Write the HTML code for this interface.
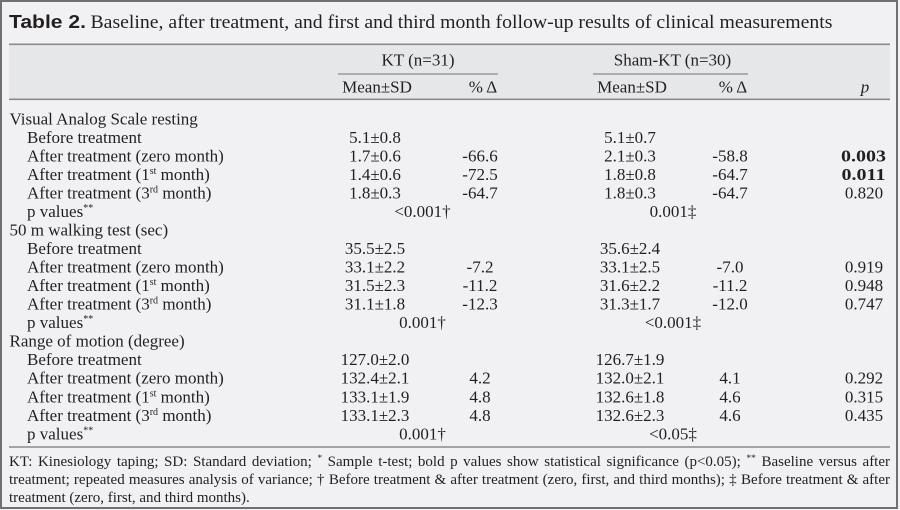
<!DOCTYPE html>
<html>
<head>
<meta charset="utf-8">
<style>
  html, body { margin:0; padding:0; }
  body { width:900px; height:510px; position:relative; overflow:hidden; background:#f1f1f3; }
  svg { position:absolute; left:0; top:0; }
  .fn { position:absolute; left:9px; width:881px; height:18.4px; line-height:18.4px;
        font-family:"Liberation Serif", serif; font-size:15px; color:#231f20; white-space:nowrap; }
  .j { text-align:justify; text-align-last:justify; white-space:normal; }
  .fn sup { font-size:9.5px; line-height:0; vertical-align:5px; }
</style>
</head>
<body>
<svg width="900" height="510" viewBox="0 0 900 510" xmlns="http://www.w3.org/2000/svg">
  <rect x="0" y="0" width="900" height="510" fill="#f1f1f3"/>
  <rect x="1" y="1" width="896" height="507" fill="none" stroke="#707072" stroke-width="2"/>
  <!-- header band -->
  <rect x="9" y="44" width="881" height="55" fill="#e6e7e9"/>
  <line x1="9" y1="44.3" x2="890" y2="44.3" stroke="#8a8a8c" stroke-width="1.6"/>
  <line x1="9" y1="99.3" x2="890" y2="99.3" stroke="#8a8a8c" stroke-width="1.6"/>
  <line x1="338" y1="74" x2="498" y2="74" stroke="#8a8a8c" stroke-width="1.2"/>
  <line x1="593" y1="74" x2="748" y2="74" stroke="#8a8a8c" stroke-width="1.2"/>
  <line x1="9" y1="447" x2="890" y2="447" stroke="#8a8a8c" stroke-width="1.6"/>

  <g fill="#231f20">
    <!-- title -->
    <text x="9" y="28" font-family="Liberation Sans, sans-serif" font-weight="bold" font-size="18.5" textLength="77" lengthAdjust="spacingAndGlyphs">Table 2.</text>
    <text x="90.5" y="28" font-family="Liberation Serif, serif" font-size="18.5" textLength="742" lengthAdjust="spacingAndGlyphs">Baseline, after treatment, and first and third month follow-up results of clinical measurements</text>
  </g>

  <g fill="#231f20" font-family="Liberation Serif, serif" font-size="17">
    <!-- header -->
    <text x="418" y="65.5" text-anchor="middle">KT (n=31)</text>
    <text x="672.5" y="65.5" text-anchor="middle">Sham-KT (n=30)</text>
    <text x="377" y="92.5" text-anchor="middle">Mean±SD</text>
    <text x="483" y="92.5" text-anchor="middle">% Δ</text>
    <text x="632" y="92.5" text-anchor="middle">Mean±SD</text>
    <text x="733" y="92.5" text-anchor="middle">% Δ</text>
    <text x="865" y="92.5" text-anchor="middle" font-style="italic">p</text>

    <!-- left labels -->
    <text x="9.5" y="124.3">Visual Analog Scale resting</text>
    <text x="27" y="142.8">Before treatment</text>
    <text x="27" y="161.4">After treatment (zero month)</text>
    <text x="27" y="179.9">After treatment (1<tspan font-size="10" dy="-6">st</tspan><tspan dy="6"> month)</tspan></text>
    <text x="27" y="198.4">After treatment (3<tspan font-size="10" dy="-6">rd</tspan><tspan dy="6"> month)</tspan></text>
    <text x="27" y="216.9">p values<tspan font-size="10" dy="-6">**</tspan></text>

    <text x="9.5" y="235.5">50 m walking test (sec)</text>
    <text x="27" y="254.0">Before treatment</text>
    <text x="27" y="272.5">After treatment (zero month)</text>
    <text x="27" y="291.1">After treatment (1<tspan font-size="10" dy="-6">st</tspan><tspan dy="6"> month)</tspan></text>
    <text x="27" y="309.6">After treatment (3<tspan font-size="10" dy="-6">rd</tspan><tspan dy="6"> month)</tspan></text>
    <text x="27" y="328.1">p values<tspan font-size="10" dy="-6">**</tspan></text>

    <text x="9.5" y="346.7">Range of motion (degree)</text>
    <text x="27" y="365.2">Before treatment</text>
    <text x="27" y="383.7">After treatment (zero month)</text>
    <text x="27" y="402.3">After treatment (1<tspan font-size="10" dy="-6">st</tspan><tspan dy="6"> month)</tspan></text>
    <text x="27" y="420.8">After treatment (3<tspan font-size="10" dy="-6">rd</tspan><tspan dy="6"> month)</tspan></text>
    <text x="27" y="439.3">p values<tspan font-size="10" dy="-6">**</tspan></text>
  </g>

  <g fill="#231f20" font-family="Liberation Serif, serif" font-size="17" text-anchor="middle">
    <!-- KT mean col 375 -->
    <text x="375" y="142.8">5.1±0.8</text>
    <text x="375" y="161.4">1.7±0.6</text>
    <text x="375" y="179.9">1.4±0.6</text>
    <text x="375" y="198.4">1.8±0.3</text>
    <text x="375" y="254.0">35.5±2.5</text>
    <text x="375" y="272.5">33.1±2.2</text>
    <text x="375" y="291.1">31.5±2.3</text>
    <text x="375" y="309.6">31.1±1.8</text>
    <text x="375" y="365.2">127.0±2.0</text>
    <text x="375" y="383.7">132.4±2.1</text>
    <text x="375" y="402.3">133.1±1.9</text>
    <text x="375" y="420.8">133.1±2.3</text>

    <!-- KT % col 480 -->
    <text x="480" y="161.4">-66.6</text>
    <text x="480" y="179.9">-72.5</text>
    <text x="480" y="198.4">-64.7</text>
    <text x="480" y="272.5">-7.2</text>
    <text x="480" y="291.1">-11.2</text>
    <text x="480" y="309.6">-12.3</text>
    <text x="480" y="383.7">4.2</text>
    <text x="480" y="402.3">4.8</text>
    <text x="480" y="420.8">4.8</text>

    <!-- KT p values 422 -->
    <text x="422.5" y="216.9">&lt;0.001†</text>
    <text x="422.5" y="328.1">0.001†</text>
    <text x="422.5" y="439.3">0.001†</text>

    <!-- Sham mean col 630 -->
    <text x="630" y="142.8">5.1±0.7</text>
    <text x="630" y="161.4">2.1±0.3</text>
    <text x="630" y="179.9">1.8±0.8</text>
    <text x="630" y="198.4">1.8±0.3</text>
    <text x="630" y="254.0">35.6±2.4</text>
    <text x="630" y="272.5">33.1±2.5</text>
    <text x="630" y="291.1">31.6±2.2</text>
    <text x="630" y="309.6">31.3±1.7</text>
    <text x="630" y="365.2">126.7±1.9</text>
    <text x="630" y="383.7">132.0±2.1</text>
    <text x="630" y="402.3">132.6±1.8</text>
    <text x="630" y="420.8">132.6±2.3</text>

    <!-- Sham % col 730 -->
    <text x="730" y="161.4">-58.8</text>
    <text x="730" y="179.9">-64.7</text>
    <text x="730" y="198.4">-64.7</text>
    <text x="730" y="272.5">-7.0</text>
    <text x="730" y="291.1">-11.2</text>
    <text x="730" y="309.6">-12.0</text>
    <text x="730" y="383.7">4.1</text>
    <text x="730" y="402.3">4.6</text>
    <text x="730" y="420.8">4.6</text>

    <!-- Sham p values 673 -->
    <text x="673" y="216.9">0.001‡</text>
    <text x="673" y="328.1">&lt;0.001‡</text>
    <text x="673" y="439.3">&lt;0.05‡</text>

    <!-- p column 864 -->
    <text x="863.5" y="161.4" font-weight="bold" textLength="45" lengthAdjust="spacingAndGlyphs">0.003</text>
    <text x="863.5" y="179.9" font-weight="bold" textLength="44" lengthAdjust="spacingAndGlyphs">0.011</text>
    <text x="864" y="198.4">0.820</text>
    <text x="864" y="272.5">0.919</text>
    <text x="864" y="291.1">0.948</text>
    <text x="864" y="309.6">0.747</text>
    <text x="864" y="383.7">0.292</text>
    <text x="864" y="402.3">0.315</text>
    <text x="864" y="420.8">0.435</text>
  </g>
</svg>

<div class="fn j" style="top:452.5px;">KT: Kinesiology taping; SD: Standard deviation; <sup>*</sup> Sample t-test; bold p values show statistical significance (p&lt;0.05); <sup>**</sup> Baseline versus after</div>
<div class="fn j" style="top:470.9px;">treatment; repeated measures analysis of variance; † Before treatment &amp; after treatment (zero, first, and third months); ‡ Before treatment &amp; after</div>
<div class="fn" style="top:489.3px;">treatment (zero, first, and third months).</div>
</body>
</html>
